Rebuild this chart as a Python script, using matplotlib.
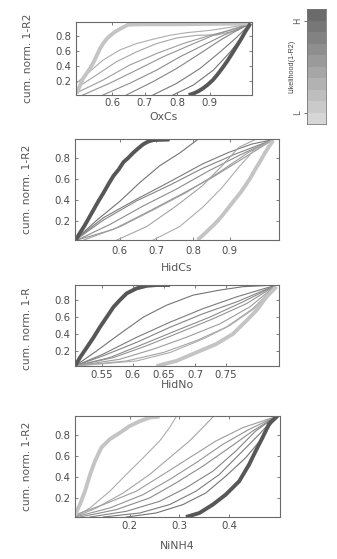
import numpy as np
import matplotlib
matplotlib.use("Agg")
import matplotlib.pyplot as plt
from matplotlib.colors import ListedColormap
from matplotlib.transforms import Bbox, TransformedBbox

plt.rcParams['font.family'] = ['DejaVu Sans']

# ---- datos ----
# panel 1: OxCs
ox_light_x = [.49, .50, .51, .52, .531, .542, .552, .562, .572, .583, .593, .608, .624, .637, .649, .70, .80, .90, 1.025]
ox_light_y = [.04, .14, .24, .30, .37, .45, .54, .63, .70, .76, .80, .85, .89, .92, .945, .95, .95, .955, .96]
ox_dark_x = [.835, .85, .865, .88, .895, .91, .922, .938, .953, .968, .984, .997, 1.009, 1.025]
ox_dark_y = [.02, .04, .07, .11, .16, .22, .28, .37, .46, .56, .67, .76, .85, .96]
ox_thin_x = [
    [.488, .529, .571, .622, .674, .725, .777, .829, .901, .963, 1.025],
    [.488, .55, .612, .674, .736, .798, .86, .922, .984, 1.025],
    [.493, .571, .653, .736, .818, .901, .963, 1.025],
    [.509, .591, .674, .756, .839, .911, .973, 1.025],
    [.571, .653, .736, .808, .88, .942, 1.025],
    [.643, .725, .798, .87, .932, .984, 1.025],
    [.725, .798, .87, .932, .984, 1.025],
    [.787, .849, .911, .963, 1.004, 1.025],
]
ox_thin_y = [
    [.17, .325, .478, .61, .696, .753, .805, .84, .87, .91, .96],
    [.107, .28, .456, .587, .696, .77, .805, .81, .87, .96],
    [.055, .216, .413, .565, .696, .805, .87, .96],
    [.02, .173, .347, .522, .675, .805, .89, .96],
    [.02, .173, .347, .522, .675, .805, .96],
    [.02, .195, .369, .566, .74, .87, .96],
    [.02, .173, .369, .587, .783, .96],
    [.02, .15, .347, .587, .805, .96],
]

# panel 2: HidCs
hc_light_x = [.812, .828, .843, .861, .879, .897, .915, .929, .942, .956, .969, .983, .996, 1.007, 1.018]
hc_light_y = [.02, .07, .12, .18, .25, .33, .41, .47, .535, .61, .69, .77, .85, .91, .965]
hc_dark_x = [.48, .49, .503, .516, .529, .542, .556, .569, .583, .597, .61, .623, .637, .65, .664, .677, .691, .736]
hc_dark_y = [.02, .08, .15, .23, .31, .39, .47, .55, .63, .69, .76, .80, .85, .89, .93, .955, .97, .975]
hc_thin_x = [
    [.48, .538, .601, .655, .709, .763, .812],
    [.48, .556, .646, .736, .825, .897, .96, 1.018],
    [.48, .556, .646, .736, .825, .915, 1.018],
    [.484, .574, .664, .754, .843, .933, 1.018],
    [.484, .583, .673, .763, .852, .933, 1.018],
    [.502, .601, .691, .781, .87, .951, 1.018],
    [.592, .673, .754, .825, .879, .924, .969],
    [.691, .763, .825, .879, .924, .969, 1.018],
]
hc_thin_y = [
    [.026, .21, .39, .567, .726, .846, .974],
    [.026, .233, .408, .573, .742, .853, .932, .974],
    [.02, .211, .392, .541, .70, .837, .974],
    [.02, .169, .344, .503, .678, .837, .974],
    [.02, .122, .281, .446, .614, .789, .974],
    [.02, .147, .306, .471, .662, .853, .974],
    [.02, .147, .344, .535, .726, .90, .974],
    [.02, .147, .328, .519, .71, .885, .974],
]

# panel 3: HidNo
hn_dark_x = [.507, .515, .526, .537, .547, .558, .569, .579, .59, .606, .622, .638, .66]
hn_dark_y = [.02, .12, .24, .36, .48, .60, .72, .80, .88, .94, .97, .98, .98]
hn_light_x = [.638, .67, .702, .734, .761, .783, .799, .815, .831]
hn_light_y = [.02, .08, .18, .28, .40, .56, .68, .84, .96]
hn_thin_x = [
    [.507, .542, .579, .617, .654, .697, .74, .777, .831],
    [.507, .552, .606, .66, .713, .767, .831],
    [.507, .552, .606, .66, .713, .767, .831],
    [.507, .563, .617, .67, .724, .777, .831],
    [.507, .569, .622, .676, .729, .783, .831],
    [.507, .579, .633, .686, .74, .788, .831],
    [.507, .59, .649, .702, .75, .793, .831],
    [.507, .606, .66, .713, .756, .799, .831],
]
hn_thin_y = [
    [.02, .20, .40, .60, .74, .86, .92, .96, .98],
    [.02, .16, .36, .54, .70, .84, .98],
    [.02, .14, .30, .48, .64, .78, .98],
    [.02, .12, .28, .44, .60, .78, .98],
    [.02, .12, .26, .42, .58, .76, .98],
    [.02, .10, .22, .36, .52, .72, .98],
    [.02, .08, .18, .32, .48, .70, .98],
    [.02, .08, .18, .34, .50, .72, .98],
]

# panel 4: NiNH4
nn_light_x = [.09, .10, .11, .12, .13, .143, .16, .18, .20, .22, .24, .26]
nn_light_y = [.04, .14, .265, .42, .55, .68, .76, .82, .885, .93, .965, .975]
nn_dark_x = [.313, .34, .367, .393, .42, .44, .453, .467, .48, .497]
nn_dark_y = [.02, .058, .138, .233, .36, .52, .646, .776, .904, .98]
nn_thin_x = [
    [.09, .12, .16, .193, .227, .26, .28, .293],
    [.09, .133, .187, .24, .28, .32, .353, .367],
    [.09, .147, .213, .267, .32, .373, .427, .493],
    [.09, .16, .227, .28, .333, .387, .44, .493],
    [.10, .173, .24, .293, .347, .40, .447, .493],
    [.12, .193, .26, .313, .367, .413, .453, .493],
    [.147, .22, .28, .333, .38, .42, .46, .493],
    [.193, .253, .307, .353, .393, .433, .467, .493],
]
nn_thin_y = [
    [.02, .106, .265, .424, .583, .742, .869, .97],
    [.02, .106, .249, .424, .583, .742, .90, .97],
    [.04, .138, .265, .424, .583, .742, .869, .973],
    [.02, .106, .233, .376, .535, .71, .853, .973],
    [.02, .09, .201, .344, .503, .678, .837, .973],
    [.02, .074, .169, .297, .455, .646, .837, .973],
    [.02, .058, .138, .265, .424, .614, .805, .973],
    [.02, .058, .138, .249, .408, .583, .773, .973],
]

paneles = [
    ("OxCs", [0.6, 0.7, 0.8, 0.9], (0.488, 1.03), ox_light_x, ox_light_y, ox_dark_x, ox_dark_y, ox_thin_x, ox_thin_y),
    ("HidCs", [0.6, 0.7, 0.8, 0.9], (0.478, 1.034), hc_light_x, hc_light_y, hc_dark_x, hc_dark_y, hc_thin_x, hc_thin_y),
    ("HidNo", [0.55, 0.6, 0.65, 0.7, 0.75], (0.507, 0.835), hn_light_x, hn_light_y, hn_dark_x, hn_dark_y, hn_thin_x, hn_thin_y),
    ("NiNH4", [0.2, 0.3, 0.4], (0.09, 0.502), nn_light_x, nn_light_y, nn_dark_x, nn_dark_y, nn_thin_x, nn_thin_y),
]
yticks = [0.2, 0.4, 0.6, 0.8]

W, H = 337, 559
fig = plt.figure(figsize=(W / 100, H / 100), dpi=100)

# posiciones en pixeles: izquierda, derecha, arriba, abajo
cajas = [(76, 252, 22, 95), (75, 279, 139, 240), (75, 279, 285, 366), (75, 280, 416, 517)]
pad_ticks = [2.5, 4.5, 3, 3]
pad_label = [2.5, 5, 0, 7]

gris_claro = '#c4c4c4'
gris_oscuro = '#575757'

for i, (p, caja) in enumerate(zip(paneles, cajas)):
    nombre, xt, xl, lx, ly, dx, dy, tx, ty = p
    l, r, t, b = caja
    ax = fig.add_axes([l / W, 1 - b / H, (r - l) / W, (b - t) / H])
    n = len(tx)
    # lineas delgadas, de claro a oscuro
    if i in (0, 3):
        tonos = np.linspace(0.68, 0.45, n)
    else:
        tonos = np.linspace(0.45, 0.68, n)
    for k in range(n):
        ax.plot(tx[k], ty[k], color=str(tonos[k]), lw=0.8)
    ax.plot(lx, ly, color=gris_claro, lw=2.8, solid_capstyle='butt')
    ax.plot(dx, dy, color=gris_oscuro, lw=2.8, solid_capstyle='butt')
    ax.set_xlim(xl)
    ax.set_ylim(0.02, 0.98)
    ax.set_xticks(xt)
    ax.set_xticklabels([('%g' % v) for v in xt])
    ax.set_yticks(yticks)
    ax.set_yticklabels([('%g' % v) for v in yticks])
    ax.tick_params(direction='in', length=2.5, width=0.6, top=True, right=True,
                   labelsize=7.3, colors='#666666', labelcolor='#4a4a4a', pad=3)
    ax.tick_params(axis='x', pad=pad_ticks[i])
    for s in ax.spines.values():
        s.set_color('#6a6a6a')
        s.set_linewidth(0.8)
    ax.set_xlabel(nombre, fontsize=7.8, color='#555555', labelpad=pad_label[i])
    lab = ax.set_ylabel("cum. norm. 1-R2", fontsize=7.7, color='#555555')
    ax.yaxis.set_label_coords(-43 / (r - l), 0.5)
    if i == 2:
        # la etiqueta aparece cortada arriba en la figura original
        corte = TransformedBbox(Bbox([[0, 0], [1, 1 - 289 / H]]), fig.transFigure)
        lab.set_clip_box(corte)
        lab.set_clip_on(True)

# barra de color
niveles = 10
grises = [str(v) for v in np.linspace(0.84, 0.42, niveles)]
cax = fig.add_axes([307 / W, 1 - 124 / H, 19 / W, 115 / H])
cax.imshow(np.arange(niveles).reshape(-1, 1), origin='lower', aspect='auto',
           cmap=ListedColormap(grises), extent=[0, 1, 0, niveles])
cax.set_xticks([])
cax.set_yticks([1, 9])
cax.set_yticklabels(['L', 'H'], rotation=90, va='center', fontsize=6, color='#444444')
cax.tick_params(axis='y', direction='out', length=2.5, width=0.6, colors='#555555', pad=1)
cax.set_ylabel("Likelihood(1-R2)", fontsize=5.2, color='#444444',
               family=['Liberation Sans Narrow', 'Liberation Sans'])
cax.yaxis.set_label_coords(-0.6, 0.5)
for s in cax.spines.values():
    s.set_color('#777777')
    s.set_linewidth(0.6)

fig.savefig("out.png", dpi=100)
